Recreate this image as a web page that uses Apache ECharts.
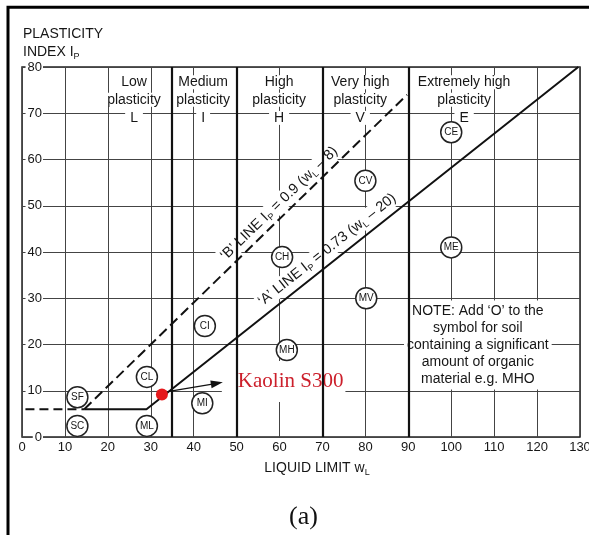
<!DOCTYPE html>
<html><head><meta charset="utf-8">
<script src="https://cdn.jsdelivr.net/npm/echarts@6/dist/echarts.min.js"></script>
<style>html,body{margin:0;padding:0;background:#fff}#c{width:589px;height:535px}</style>
</head><body><div id="c"></div>
<script>
// ---- data ----
const xTickValues = [0,10,20,30,40,50,60,70,80,90,100,110,120,130];
const yTickValues = [0,10,20,30,40,50,60,70,80];
const soilCodes = ['SF','SC','CL','ML','CI','MI','CH','MH','CV','MV','CE','ME'];
const soilLL    = [12.9,12.9,29.1,29.1,42.6,42.0,60.6,61.7,80.0,80.2,100.0,100.0];
const soilPI    = [8.6, 2.4, 13.0,2.4, 24.0,7.3, 38.9,18.8,55.4,30.0,65.9, 41.0];
const zoneBoundaryLL = [35,50,70,90];
const zoneWords   = ['Low','Medium','High','Very high','Extremely high'];
const zoneLetters = ['L','I','H','V','E'];
const aLineLL = [14.5, 29, 129.6];
const aLinePI = [6, 6, 80];
const lowDashLL = [0.8, 14.5];
const lowDashPI = [6, 6];
const bLineLL = [14.5, 89.7];
const bLinePI = [6, 74];
const kaolinName = 'Kaolin S300';
const kaolinLL = 32.6;
const kaolinPI = 9.2;
const arrowFrom = [34.6, 9.9];
const arrowTo   = [45.4, 11.6];
const noteText = "NOTE: Add ‘O’ to the\nsymbol for soil\ncontaining a significant\namount of organic\nmaterial e.g. MHO";

// ---- annotation anchors (data coordinates) ----
const zoneLabelLL = [26.1, 42.2, 59.9, 78.8, 103.0];
const zoneRowPI = [76.7, 72.9, 69.0];
const notePos = [106.2, 19.9];
const kaolinBoxPos = [60.95, 12.0];
const bLabelPos = [59.9, 50.5];
const aLabelPos = [71.1, 40.5];

const SANS = 'Liberation Sans, Arial, Helvetica, sans-serif';
const SERIF = 'Liberation Serif, Times New Roman, serif';
const INK = '#161616';
const GRIDC = '#444';
const subRich = { s: { fontSize: 9, verticalAlign: 'bottom', lineHeight: 10, fontFamily: SANS, color: INK } };

function pts(xs, ys){ return xs.map((x,i)=>[x, ys[i]]); }

function textItem(pos, text, extra){
  return { value: pos, label: Object.assign({
    show: true, position: 'inside', formatter: () => text,
    color: INK, fontFamily: SANS, fontSize: 14, backgroundColor: '#fff',
    align: 'center', verticalAlign: 'middle'
  }, extra || {}) };
}

const textItems = [];
zoneWords.forEach((w,i)=>{
  textItems.push(textItem([zoneLabelLL[i], zoneRowPI[0]], w, {padding:[0,0]}));
  textItems.push(textItem([zoneLabelLL[i], zoneRowPI[1]], 'plasticity', {padding:[0,0]}));
  textItems.push(textItem([zoneLabelLL[i], zoneRowPI[2]], zoneLetters[i], {padding:[0,5]}));
});
textItems.push(textItem(notePos, noteText, {lineHeight: 17, padding:[2,3]}));
textItems.push(textItem(kaolinBoxPos, kaolinName, {fontFamily: SERIF, fontSize: 21, color:'#cc1f2b', padding:[10,2,10,16]}));
textItems.push(textItem(bLabelPos, "‘B’ LINE I{s|P} = 0.9 (w{s|L} – 8)", {fontSize: 14.5, lineHeight: 18, rotate: 44, padding:[0,2], rich: subRich}));
textItems.push(textItem(aLabelPos, "‘A’ LINE I{s|P} = 0.73 (w{s|L} – 20)", {fontSize: 14.5, lineHeight: 18, rotate: 38.5, padding:[0,2], rich: subRich}));

const chart = echarts.init(document.getElementById('c'), null, {renderer:'canvas'});
chart.setOption({
  animation: false,
  backgroundColor: '#fff',
  title: { text: '(a)', left: 289, top: 504, padding: 0,
    textStyle: { fontFamily: SERIF, fontSize: 26, fontWeight: 'normal', color: '#111' } },
  graphic: [{ type: 'rect', silent: true, shape: { x: 8, y: 7.2, width: 700, height: 700 },
    style: { fill: null, stroke: '#000', lineWidth: 3 } }],
  grid: { left: 22, right: 9, top: 67, bottom: 98, show: true, borderColor: '#222', borderWidth: 1.5,
    backgroundColor: 'transparent', outerBoundsMode: 'none', containLabel: false },
  xAxis: {
    type: 'value', min: 0, max: 130, interval: 10,
    name: 'LIQUID LIMIT w{s|L}', nameLocation: 'middle', nameGap: 17,
    nameTextStyle: { fontFamily: SANS, fontSize: 14, color: INK, lineHeight: 18, padding: [0,0,0,32], rich: subRich },
    axisLine: { show: false }, axisTick: { show: false },
    axisLabel: { margin: 4, fontFamily: SANS, fontSize: 13, color: INK, hideOverlap: false, formatter: v => xTickValues.includes(v) ? String(v) : '' },
    splitLine: { show: true, lineStyle: { color: GRIDC, width: 1 } }
  },
  yAxis: [{
    type: 'value', min: 0, max: 80, interval: 10, position: 'left',
    name: 'PLASTICITY\nINDEX I{s|P}', nameLocation: 'end', nameGap: 6,
    nameTextStyle: { fontFamily: SANS, fontSize: 14, color: INK, lineHeight: 18, align: 'left', verticalAlign: 'bottom', padding: [0,0,0,1], rich: subRich },
    axisLine: { show: false }, axisTick: { show: false }, axisLabel: { show: false },
    splitLine: { show: true, lineStyle: { color: GRIDC, width: 1 } }
  }, {
    type: 'value', min: 0, max: 80, interval: 10, position: 'left', z: 10,
    axisLine: { show: false }, axisTick: { show: false }, splitLine: { show: false },
    axisLabel: { inside: true, align: 'right', margin: 21, fontFamily: SANS, fontSize: 13, color: INK,
      backgroundColor: '#fff', padding: [0,1,0,2], formatter: v => yTickValues.includes(v) ? String(v) : '' }
  }],
  series: [
    { type: 'line', name: 'zones', data: [], z: 2, silent: true,
      markLine: { silent: true, symbol: ['none','none'], label: { show: false },
        lineStyle: { color: '#111', width: 2.2, type: 'solid' },
        data: zoneBoundaryLL.map(v => ({ xAxis: v })) } },
    { type: 'line', name: 'A line', data: pts(aLineLL, aLinePI), z: 3, silent: true,
      showSymbol: false, symbol: 'none', lineStyle: { color: '#111', width: 2 } },
    { type: 'line', name: 'lower dash', data: pts(lowDashLL, lowDashPI), z: 3, silent: true,
      showSymbol: false, symbol: 'none', lineStyle: { color: '#111', width: 2, type: [9,5] } },
    { type: 'line', name: 'B line', data: pts(bLineLL, bLinePI), z: 3, silent: true,
      showSymbol: false, symbol: 'none', lineStyle: { color: '#111', width: 2, type: [10,5] } },
    { type: 'scatter', name: 'text', symbolSize: 0, z: 4, silent: true, itemStyle: { opacity: 1 }, data: textItems },
    { type: 'scatter', name: 'soils', z: 5, silent: true, symbol: 'circle', symbolSize: 21,
      itemStyle: { color: '#fff', borderColor: '#222', borderWidth: 1.5, opacity: 1 },
      label: { show: true, position: 'inside', formatter: p => p.name, color: INK, fontFamily: SANS, fontSize: 10 },
      data: soilCodes.map((c,i) => ({ name: c, value: [soilLL[i], soilPI[i]] })) },
    { type: 'scatter', name: kaolinName, z: 6, silent: true, symbol: 'circle', symbolSize: 12,
      itemStyle: { color: '#e5191c', opacity: 1 },
      data: [[kaolinLL, kaolinPI]],
      markLine: { silent: true, symbol: ['none','triangle'], symbolSize: [8,12], label: { show: false },
        lineStyle: { color: '#111', width: 1.2, type: 'solid' },
        data: [[{ coord: arrowFrom }, { coord: arrowTo }]] } }
  ]
});
</script></body></html>
